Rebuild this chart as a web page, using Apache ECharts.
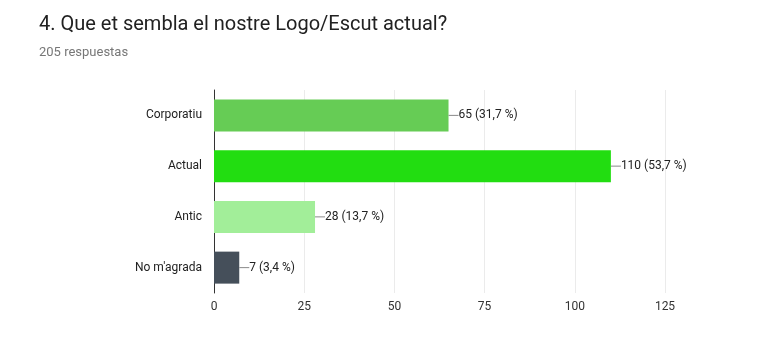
<!DOCTYPE html>
<html><head><meta charset="utf-8">
<script src="https://cdn.jsdelivr.net/npm/echarts@6/dist/echarts.min.js"></script>
<style>html,body{margin:0;padding:0;background:#fff}#c{width:767px;height:362px}</style>
</head><body><div id="c"></div>
<script>
const categories = ['Corporatiu', 'Actual', 'Antic', "No m'agrada"];
const counts = [65, 110, 28, 7];
const percents = ['31,7', '53,7', '13,7', '3,4'];
const barColors = ['#66cc55', '#22dd11', '#a2ee99', '#454f5a'];
const xTicks = [0, 25, 50, 75, 100, 125];

const chart = echarts.init(document.getElementById('c'));
chart.setOption({
  animation: false,
  backgroundColor: '#fff',
  textStyle: { fontFamily: 'Roboto, Arial, sans-serif' },
  title: {
    text: '4. Que et sembla el nostre Logo/Escut actual?',
    subtext: '205 respuestas',
    left: 34, top: 10,
    itemGap: 11,
    textStyle: { fontSize: 20, fontWeight: 'normal', color: '#212121', fontFamily: 'Roboto, Arial, sans-serif' },
    subtextStyle: { fontSize: 13, color: '#777', fontFamily: 'Roboto, Arial, sans-serif' }
  },
  grid: { left: 214, right: 102, top: 90, bottom: 69, containLabel: false },
  xAxis: {
    type: 'value', min: xTicks[0], max: xTicks[xTicks.length - 1], interval: 25,
    axisLine: { show: false }, axisTick: { show: false },
    axisLabel: { color: '#333', fontSize: 12, margin: 8 },
    splitLine: { lineStyle: { color: '#ebebeb', width: 1 } }
  },
  yAxis: {
    type: 'category', data: categories, inverse: true,
    axisLine: { show: true, lineStyle: { color: '#333', width: 1 } },
    axisTick: { show: false },
    axisLabel: { color: '#222', fontSize: 12, margin: 12 }
  },
  series: [{
    type: 'bar',
    barWidth: 32,
    data: counts.map((v, i) => ({ value: v, itemStyle: { color: barColors[i] } })),
    label: {
      show: true, position: 'right', distance: 0,
      formatter: p => '{l| }{t|' + p.value + ' (' + percents[p.dataIndex] + ' %)}',
      rich: {
        l: { width: 10, height: 1, backgroundColor: '#888' },
        t: { color: '#222', fontSize: 12 }
      }
    }
  }]
});
</script></body></html>
